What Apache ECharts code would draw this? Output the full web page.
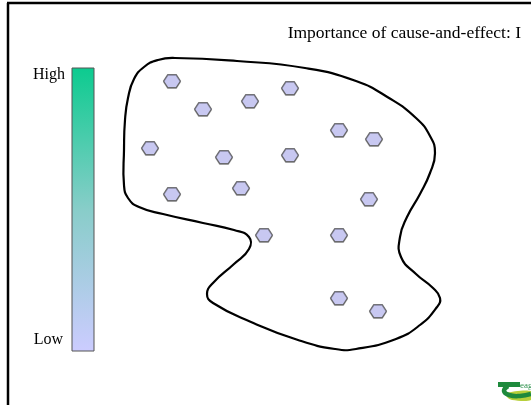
<!DOCTYPE html>
<html>
<head>
<meta charset="utf-8">
<script src="https://cdn.jsdelivr.net/npm/echarts@6/dist/echarts.min.js"></script>
<style>html,body{margin:0;padding:0;background:#fff}#c{width:531px;height:405px}</style>
</head>
<body>
<div id="c"></div>
<script>
// Title and scale labels
var titleText = 'Importance of cause-and-effect: I';
var scaleLabels = ['High', 'Low'];
var scaleColors = ['#0ccb8f', '#88cdc9', '#ccccff'];

// Hexagon item positions (x, y in slide units)
var itemX = [172, 203, 250, 290, 339, 374, 150, 224, 290, 172, 241, 369, 264, 339, 339, 378];
var itemY = [81, 109, 101, 88, 130, 139, 148, 157, 155, 194, 188, 199, 235, 235, 298, 311];

// Outline of the enclosing blob (closed loop, x, y in slide units)
var blobX = [124,125,128,134,144,158,175,237,305,356,389,416,430,435,430,420,407,400,401,416,433,440,437,420,396,356,335,298,251,213,207,213,234,249,249,234,203,163,139,128,124];
var blobY = [150,120,98,79,67,60,58,61,68,81,98,118,136,153,173,194,217,237,257,274,288,298,307,325,339,349,349,340,322,303,294,283,264,249,237,230,223,214,207,198,185];

var chart = echarts.init(document.getElementById('c'), null, {renderer: 'canvas'});
var hexPath = 'path://M0,5 L3,0 L9,0 L12,5 L9,10 L3,10 Z';

var option = {
  animation: false,
  backgroundColor: '#fff',
  grid: {left: 0, right: 0, top: 0, bottom: 0},
  xAxis: {type: 'value', min: 0, max: 531, show: false},
  yAxis: {type: 'value', min: 0, max: 405, inverse: true, show: false},
  series: [
    {
      type: 'custom',
      silent: true,
      data: blobX.map(function (x, i) { return [x, blobY[i]]; }),
      renderItem: function (params, api) {
        if (params.dataIndex !== 0) return null;
        var pts = blobX.map(function (x, i) { return api.coord([x, blobY[i]]); });
        return {
          type: 'polygon',
          shape: {points: pts, smooth: 0.5},
          style: {fill: 'none', stroke: '#000', lineWidth: 2.2}
        };
      }
    },
    {
      type: 'scatter',
      data: itemX.map(function (x, i) { return [x, itemY[i]]; }),
      symbol: hexPath,
      symbolSize: [17, 13],
      itemStyle: {color: '#ccccff', borderColor: '#555', borderWidth: 1, shadowColor: 'rgba(0,0,0,0.35)', shadowOffsetY: 1, shadowBlur: 0},
      silent: true
    }
  ],
  graphic: [
    {type: 'line', shape: {x1: 8, y1: 3, x2: 8, y2: 405}, style: {stroke: '#000', lineWidth: 2.5}},
    {type: 'line', shape: {x1: 7, y1: 3, x2: 531, y2: 3}, style: {stroke: '#000', lineWidth: 2.5}},
    {type: 'text', x: 521, y: 33, style: {text: titleText, font: '17.5px "Liberation Serif", serif', fill: '#000', align: 'right', verticalAlign: 'middle'}},
    {
      type: 'rect', shape: {x: 72, y: 68, width: 22, height: 283},
      style: {
        fill: new echarts.graphic.LinearGradient(0, 0, 0, 1, [
          {offset: 0, color: scaleColors[0]},
          {offset: 0.5, color: scaleColors[1]},
          {offset: 1, color: scaleColors[2]}
        ]),
        stroke: '#555', lineWidth: 1
      }
    },
    {type: 'text', x: 65, y: 75, style: {text: scaleLabels[0], font: '16px "Liberation Serif", serif', fill: '#000', align: 'right', verticalAlign: 'middle'}},
    {type: 'text', x: 63, y: 340, style: {text: scaleLabels[1], font: '16px "Liberation Serif", serif', fill: '#000', align: 'right', verticalAlign: 'middle'}},
    // logo
    {type: 'polygon', shape: {points: [[506,393],[531,391],[531,400],[512,400],[507,397]], smooth: 0.3}, style: {fill: '#b7cf3a'}},
    {type: 'rect', shape: {x: 498, y: 382, width: 22, height: 5}, style: {fill: '#1e8a3c'}},
    {type: 'polyline', shape: {points: [[508,386],[504,391],[509,395],[520,396],[531,394]], smooth: 0.5}, style: {stroke: '#1e8a3c', lineWidth: 4.5, fill: null}},
    {type: 'text', x: 520, y: 386, style: {text: 'eagasc', font: '9px "Liberation Serif", serif', fill: '#2a8f4a', verticalAlign: 'middle'}}
  ]
};
chart.setOption(option);
</script>
</body>
</html>
